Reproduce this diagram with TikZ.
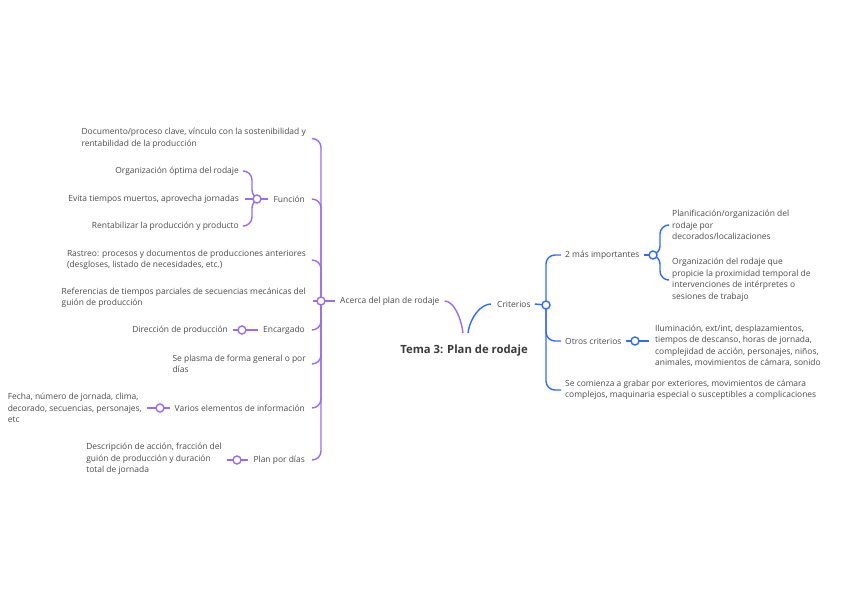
\documentclass[tikz,border=0pt]{standalone}
\usepackage{fontspec}
\setmainfont{Open Sans}
\usetikzlibrary{calc}
\definecolor{pur}{HTML}{9B6BF2}
\definecolor{blu}{HTML}{2F6BFF}
\definecolor{txt}{HTML}{4A4A4A}
\definecolor{tit}{HTML}{3A3A3A}
\pgfdeclarelayer{bg}
\pgfsetlayers{bg,main}
\begin{document}
\begin{tikzpicture}[x=1pt,y=-1pt,
 every node/.style={inner sep=0pt, text=txt, font=\fontsize{8.45}{11.5}\selectfont, align=left},
 pl/.style={draw=pur, line width=1.4pt, rounded corners=9pt},
 bl/.style={draw=blu, line width=1.4pt, rounded corners=9pt},
 plc/.style={draw=pur, line width=1.4pt},
 blc/.style={draw=blu, line width=1.4pt},
 hubp/.style={circle, draw=pur, fill=white, line width=1.4pt, minimum size=8pt, inner sep=0pt},
 hubb/.style={circle, draw=blu, fill=white, line width=1.4pt, minimum size=8pt, inner sep=0pt}]
\useasboundingbox (0,0) rectangle (848,599);

% left branch
\node[hubp] (hA) at (321,301) {};
\node[anchor=west] (ace) at (340,301) {Acerca del plan de rodaje};
\node[anchor=east] (doc) at (306,138.5) {Documento/proceso clave, vínculo con la sostenibilidad y\\rentabilidad de la producción};
\node[anchor=east] (fun) at (305,199) {Función};
\node[hubp] (hF) at (257,199) {};
\node[anchor=east] (org) at (239,171) {Organización óptima del rodaje};
\node[anchor=east] (evi) at (239,199) {Evita tiempos muertos, aprovecha jornadas};
\node[anchor=east] (ren) at (239,226) {Rentabilizar la producción y producto};
\node[anchor=east] (ras) at (306,260) {Rastreo: procesos y documentos de producciones anteriores\\(desgloses, listado de necesidades, etc.)};
\node[anchor=east] (ref) at (306,298) {Referencias de tiempos parciales de secuencias mecánicas del\\guión de producción};
\node[anchor=east] (enc) at (305,330) {Encargado};
\node[hubp] (hE) at (242,330) {};
\node[anchor=east] (dir) at (228,330) {Dirección de producción};
\node[anchor=east] (pla) at (306,364) {Se plasma de forma general o por\\días};
\node[anchor=east] (var) at (305,408) {Varios elementos de información};
\node[hubp] (hV) at (160,408) {};
\node[anchor=east] (fec) at (142,408) {Fecha, número de jornada, clima,\\decorado, secuencias, personajes,\\etc};
\node[anchor=east] (pd) at (305,460) {Plan por días};
\node[hubp] (hP) at (237,460) {};
\node[anchor=east] (des) at (222,459) {Descripción de acción, fracción del\\guión de producción y duración\\total de jornada};

% centre
\node[font=\bfseries\fontsize{11.3}{13}\selectfont, text=tit] (tit) at (464,351) {Tema 3: Plan de rodaje};

% right branch
\node[anchor=west] (cri) at (497,304) {Criterios};
\node[hubb] (hC) at (546,305) {};
\node[anchor=west] (imp) at (565,255) {2 más importantes};
\node[hubb] (h2) at (653,255) {};
\node[anchor=west] (pl1) at (672,225) {Planificación/organización del\\rodaje por\\decorados/localizaciones};
\node[anchor=west] (pl2) at (672,280) {Organización del rodaje que\\propicie la proximidad temporal de\\intervenciones de intérpretes o\\sesiones de trabajo};
\node[anchor=west] (otr) at (565,341) {Otros criterios};
\node[hubb] (hO) at (635,341) {};
\node[anchor=west] (ilu) at (655,346) {Iluminación, ext/int, desplazamientos,\\tiempos de descanso, horas de jornada,\\complejidad de acción, personajes, niños,\\animales, movimientos de cámara, sonido};
\node[anchor=west] (com) at (565,390) {Se comienza a grabar por exteriores, movimientos de cámara\\complejos, maquinaria especial o susceptibles a complicaciones};

\begin{pgfonlayer}{bg}
% centre connectors
\draw[plc] ($(ace.east)+(5,0)$) .. controls +(9,0) and +(-2,-16) .. ($(tit.north)+(-1,-12)$);
\draw[blc] ($(tit.north)+(4,-12)$) .. controls +(2,-16) and +(-10,0) .. ($(cri.west)+(-6,0)$);
% left hub
\draw[pl] (hA.center) -- ($(ace.west)+(-5,0)$);
\draw[pl] (hA.center) |- ($(doc.east)+(7,0)$);
\draw[pl] (hA.center) |- ($(fun.east)+(8,0)$);
\draw[pl] (hA.center) |- ($(ras.east)+(7,0)$);
\draw[pl] (hA.center) -- ($(hA.center -| ref.east)+(7,0)$);
\draw[pl] (hA.center) |- ($(enc.east)+(8,0)$);
\draw[pl] (hA.center) |- ($(pla.east)+(7,0)$);
\draw[pl] (hA.center) |- ($(var.east)+(8,0)$);
\draw[pl] (hA.center) |- ($(pd.east)+(8,0)$);
% funcion
\draw[pl] (hF.center) -- ($(fun.west)+(-5,0)$);
\draw[pl] (hF.center) -- ++(-5,0) |- ($(org.east)+(6,0)$);
\draw[pl] (hF.center) -- ($(evi.east)+(6,0)$);
\draw[pl] (hF.center) -- ++(-5,0) |- ($(ren.east)+(6,0)$);
% others left
\draw[pl] (hE.center) -- ($(enc.west)+(-5,0)$);
\draw[pl] (hE.center) -- ($(dir.east)+(5,0)$);
\draw[pl] (hV.center) -- ($(var.west)+(-5,0)$);
\draw[pl] (hV.center) -- ($(fec.east)+(5,0)$);
\draw[pl] (hP.center) -- ($(pd.west)+(-5,0)$);
\draw[pl] (hP.center) -- ($(hP.center -| des.east)+(5,0)$);
% right
\draw[bl] ($(cri.east)+(4,0)$) -- (hC.center);
\draw[bl] (hC.center) |- ($(imp.west)+(-4,0)$);
\draw[bl] (hC.center) |- ($(otr.west)+(-4,0)$);
\draw[bl] (hC.center) |- ($(com.west)+(-4,0)$);
\draw[bl] ($(imp.east)+(4,0)$) -- (h2.center);
\draw[bl] (h2.center) -- ++(7,0) |- ($(pl1.west)+(-5,0)$);
\draw[bl] (h2.center) -- ++(7,0) |- ($(pl2.west)+(-5,0)$);
\draw[bl] ($(otr.east)+(4,0)$) -- (hO.center) -- ($(hO.center -| ilu.west)+(-6,0)$);
\end{pgfonlayer}
\end{tikzpicture}
\end{document}
